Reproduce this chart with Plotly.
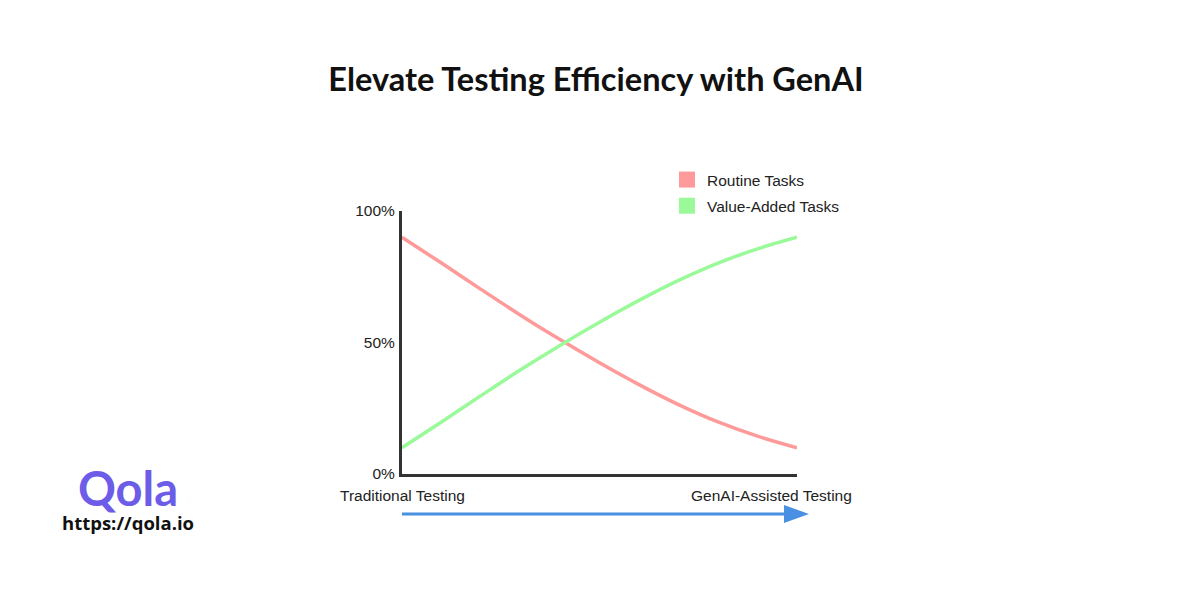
import plotly.graph_objects as go

# ---- data ----
progress = [0, 10, 20, 30, 40, 50, 60, 70, 80, 90, 100]
routine_tasks = [90, 80.2, 70.2, 60.4, 51.1, 42.3, 34.0, 26.4, 19.8, 14.4, 10]
value_added_tasks = [10, 19.8, 29.8, 39.6, 48.9, 57.7, 66.0, 73.6, 80.2, 85.6, 90]
series_names = ["Routine Tasks", "Value-Added Tasks"]
series_colors = ["#FF9A9A", "#9AFA9A"]
y_tick_vals = [0, 50, 100]
y_tick_text = ["0%", "50%", "100%"]
x_end_labels = ["Traditional Testing", "GenAI-Assisted Testing"]
title_text = "Elevate Testing Efficiency with GenAI"

W, H = 1200, 600
L, R, T, B = 402, 403, 211, 126
pw, ph = W - L - R, H - T - B

def px(xp):
    return (xp - L) / pw

def py(yp):
    return (H - B - yp) / ph

fig = go.Figure()
for name, vals, col in zip(series_names, [routine_tasks, value_added_tasks], series_colors):
    fig.add_trace(go.Scatter(
        x=progress, y=vals, mode="lines", line=dict(color=col, width=3.5, shape="spline"),
        showlegend=False, hoverinfo="skip"))
for name, col in zip(series_names, series_colors):
    fig.add_trace(go.Scatter(
        x=[None], y=[None], mode="markers", name=name, legendgroup=name,
        marker=dict(symbol="square", size=17, color=col)))

font_main = "Liberation Sans, Arial, sans-serif"

fig.update_layout(
    width=W, height=H,
    margin=dict(l=L, r=R, t=T, b=B),
    paper_bgcolor="white", plot_bgcolor="white",
    title=dict(text="<b>" + title_text + "</b>", x=596 / W, xanchor="center",
               y=1 - 80 / H, yanchor="middle",
               font=dict(family="Lato, sans-serif", size=32.5, color="#111")),
    xaxis=dict(range=[0, 100], showgrid=False, zeroline=False, showticklabels=False,
               showline=True, linecolor="#333", linewidth=3, fixedrange=True),
    yaxis=dict(range=[0, 100], showgrid=False, zeroline=False, tickvals=y_tick_vals,
               ticktext=y_tick_text, showline=True, linecolor="#333", linewidth=3,
               ticks="outside", ticklen=1, tickcolor="rgba(0,0,0,0)",
               tickfont=dict(family=font_main, size=15.5, color="#222"), fixedrange=True),
    legend=dict(x=px(667), y=py(163), xanchor="left", yanchor="top",
                font=dict(family=font_main, size=15.5, color="#222"),
                bgcolor="rgba(0,0,0,0)", itemsizing="trace",
                traceorder="grouped", tracegroupgap=3),
    showlegend=True,
)

# end labels under the x axis
fig.add_annotation(x=px(402), y=py(495), xref="paper", yref="paper", text=x_end_labels[0],
                   showarrow=False, xanchor="center", yanchor="middle",
                   font=dict(family=font_main, size=15.5, color="#222"))
fig.add_annotation(x=px(771), y=py(495), xref="paper", yref="paper", text=x_end_labels[1],
                   showarrow=False, xanchor="center", yanchor="middle",
                   font=dict(family=font_main, size=15.5, color="#222"))

# progress arrow
arrow_col = "#4A90E2"
fig.add_shape(type="line", xref="paper", yref="paper", x0=px(402), x1=px(787),
              y0=py(514), y1=py(514), line=dict(color=arrow_col, width=3))
fig.add_shape(type="path", xref="paper", yref="paper",
              path=f"M {px(784)},{py(505)} L {px(809)},{py(514)} L {px(784)},{py(523)} Z",
              fillcolor=arrow_col, line=dict(color=arrow_col, width=0))

# logo (one text block: brand + url)
logo_text = ('<span style="font-family:Lato, sans-serif;font-size:47px;color:#6C5CE7"><b>Qola</b></span>'
             '<br><b>https://qola.io</b>')
fig.add_annotation(x=px(128), y=py(537), xref="paper", yref="paper", text=logo_text,
                   showarrow=False, xanchor="center", yanchor="bottom", align="center",
                   font=dict(family="Open Sans, sans-serif", size=18.5, color="#111"))

fig.write_html("out.html")
